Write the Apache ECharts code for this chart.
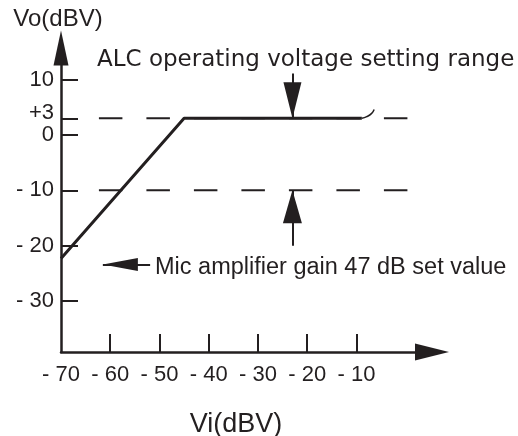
<!DOCTYPE html>
<html><head><meta charset="utf-8">
<script src="https://cdn.jsdelivr.net/npm/echarts@6/dist/echarts.min.js"></script>
<style>html,body{margin:0;padding:0;background:#fff}#c{width:518px;height:436px}</style>
</head><body><div id="c"></div>
<script>
// ---- data ----
const xTickValues = [-60, -50, -40, -30, -20, -10];
const xLabelValues = [-70, -60, -50, -40, -30, -20, -10];
const yTickValues = [10, 3, 0, -10, -20, -30];
const yLabelValues = [10, 3, 0, -10, -20, -30];
const gainCurve = [[-70, -22.3], [-45, 3], [-8.9, 3]];
const breakMark = [[-8.9, 3], [-7.9, 3.3], [-6.9, 3.9], [-6.4, 4.6]];
const alcUpperRef = [[-62.3, 3], [0.5, 3]];
const alcLowerRef = [[-62.3, -10], [0.5, -10]];
const alcArrowDown = [[-23, 11.1], [-23, 3]];
const alcArrowUp = [[-23, -20], [-23, -10]];
const micArrow = [[-51.9, -23.4], [-61.5, -23.4]];
const xName = 'Vi(dBV)';
const yName = 'Vo(dBV)';
const alcText = 'ALC operating voltage setting range';
const micText = 'Mic amplifier gain 47 dB set value';

// ---- chart ----
const C = '#231f20';
const F = '"Liberation Sans", Arial, sans-serif';
function arrowLine(pts, size) {
  return [
    { coord: pts[0], symbol: 'none' },
    { coord: pts[1], symbol: 'triangle', symbolSize: size, symbolOffset: [0, '50%'] }
  ];
}
function fmtY(v) {
  if (v === 3) return '{up|+3}';
  if (v < 0) return '- ' + Math.abs(v);
  return String(v);
}
const chart = echarts.init(document.getElementById('c'), null, { renderer: 'canvas' });
chart.setOption({
  animation: false,
  backgroundColor: '#fff',
  textStyle: { fontFamily: F, color: C },
  grid: { left: 61, right: 86, top: 48, bottom: 84, containLabel: false, outerBoundsMode: 'none' },
  xAxis: {
    type: 'value', min: -70, max: 5.35,
    splitLine: { show: false },
    axisLine: { show: true, onZero: false, symbol: ['none', 'triangle'], symbolSize: [17, 34], lineStyle: { color: C, width: 2.5 } },
    axisTick: { show: true, inside: true, length: 18, customValues: xTickValues, lineStyle: { color: C, width: 2 } },
    axisLabel: { customValues: xLabelValues, formatter: v => '- ' + Math.abs(v), margin: 12, fontSize: 22, fontFamily: F, color: C },
    name: xName, nameLocation: 'middle', nameGap: 59,
    nameTextStyle: { fontSize: 27, fontFamily: F, color: C, padding: [0, 21, 0, 0] }
  },
  yAxis: {
    type: 'value', min: -39.2, max: 15.7,
    splitLine: { show: false },
    axisLine: { show: true, onZero: false, symbol: ['none', 'triangle'], symbolSize: [15, 35], lineStyle: { color: C, width: 2.5 } },
    axisTick: { show: true, inside: true, length: 17, customValues: yTickValues, lineStyle: { color: C, width: 2 } },
    axisLabel: {
      customValues: yLabelValues, formatter: fmtY, margin: 7, fontSize: 22, fontFamily: F, color: C,
      rich: { up: { fontSize: 22, fontFamily: F, color: C, padding: [0, 0, 10, 0] } }
    },
    name: yName, nameLocation: 'end', nameGap: 17,
    nameTextStyle: { fontSize: 24, fontFamily: F, color: C, padding: [0, 6, 0, 0] }
  },
  series: [
    { type: 'line', data: alcUpperRef, symbol: 'none', silent: true, z: 2,
      lineStyle: { color: C, width: 2, type: [23.5, 24] } },
    { type: 'line', data: alcLowerRef, symbol: 'none', silent: true, z: 2,
      lineStyle: { color: C, width: 2, type: [23.5, 24] } },
    { type: 'line', data: breakMark, symbol: 'none', silent: true, smooth: true, z: 3,
      lineStyle: { color: C, width: 1.5 } },
    { type: 'line', data: gainCurve, symbol: 'none', silent: true, z: 4, color: C,
      lineStyle: { color: C, width: 3 },
      markLine: {
        silent: true, animation: false,
        label: { show: false }, emphasis: { disabled: true },
        lineStyle: { color: C, width: 2, type: 'solid' },
        itemStyle: { color: C },
        data: [
          arrowLine(alcArrowDown, [18, 36]),
          arrowLine(alcArrowUp, [19, 33]),
          arrowLine(micArrow, [13, 35])
        ]
      }
    }
  ],
  graphic: [
    { type: 'text', x: 97, y: 60, silent: true,
      style: { text: alcText, font: '23px "DejaVu Sans", sans-serif', fill: C, verticalAlign: 'middle', align: 'left' } },
    { type: 'text', x: 155, y: 268, silent: true,
      style: { text: micText, font: '23.5px "Liberation Sans", Arial, sans-serif', fill: C, verticalAlign: 'middle', align: 'left' } }
  ]
});
</script>
</body></html>
